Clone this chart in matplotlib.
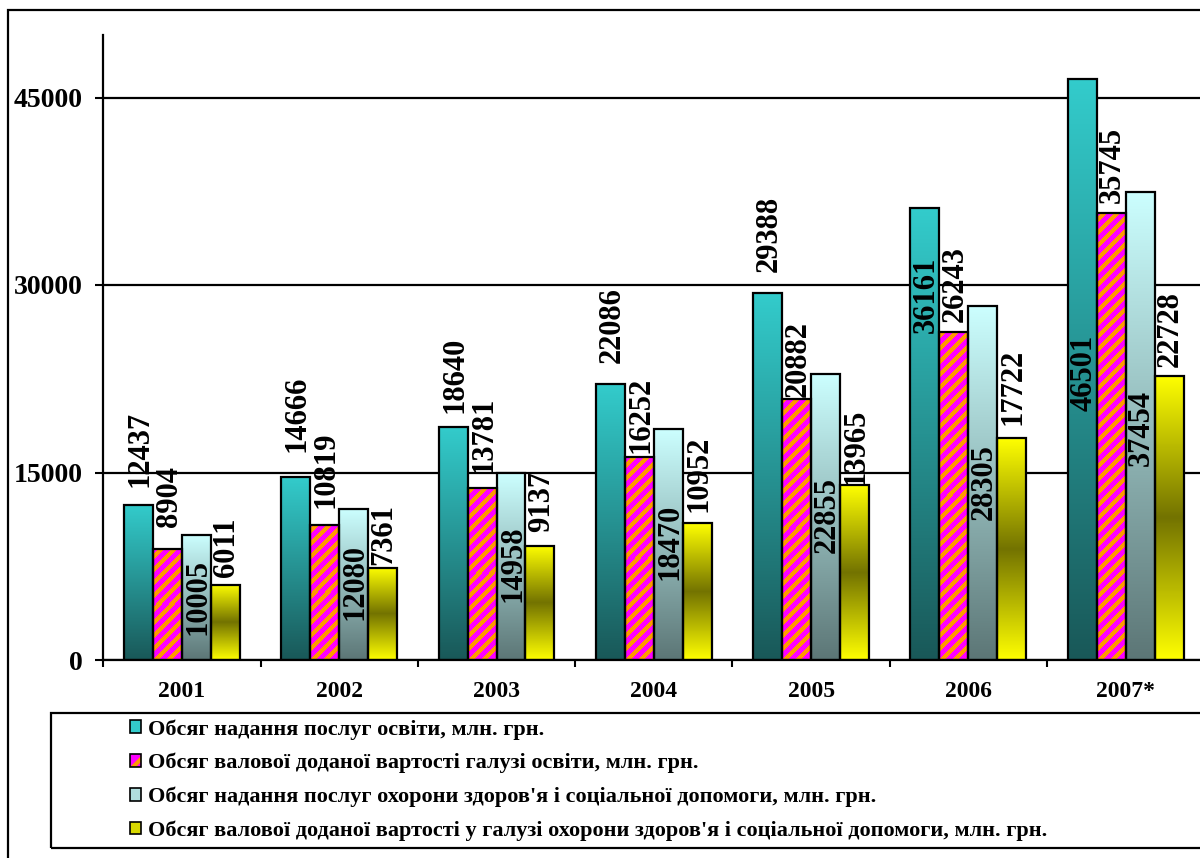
import numpy as np
import matplotlib
matplotlib.use('Agg')
import matplotlib.pyplot as plt
from matplotlib.colors import LinearSegmentedColormap, ListedColormap
from matplotlib.patches import Patch, Rectangle
from matplotlib.legend_handler import HandlerTuple

years = ['2001', '2002', '2003', '2004', '2005', '2006', '2007*']
edu_services = [12437, 14666, 18640, 22086, 29388, 36161, 46501]
edu_gva = [8904, 10819, 13781, 16252, 20882, 26243, 35745]
health_services = [10005, 12080, 14958, 18470, 22855, 28305, 37454]
health_gva = [6011, 7361, 9137, 10952, 13965, 17722, 22728]

# where each value label starts (data units), as placed in the original
edu_services_lbl = [13850, 16660, 19780, 23780, 31070, 26190, 19920]
edu_gva_lbl = [10650, 12170, 14970, 16580, 21060, 27070, 36590]
health_services_lbl = [2000, 3200, 4640, 6400, 8570, 11210, 15480]
health_gva_lbl = [6650, 7600, 10250, 11850, 14010, 18820, 23410]

series_names = [
    'Обсяг надання послуг освіти, млн. грн.',
    'Обсяг валової доданої вартості галузі освіти, млн. грн.',
    "Обсяг надання послуг охорони здоров'я і соціальної допомоги, млн. грн.",
    "Обсяг валової доданої вартості у галузі охорони здоров'я і соціальної допомоги, млн. грн.",
]

plt.rcParams['font.family'] = ['Liberation Serif', 'DejaVu Serif']
plt.rcParams['font.weight'] = 'bold'
plt.rcParams['hatch.linewidth'] = 3

teal = LinearSegmentedColormap.from_list('teal', ['#195858', '#33cccc'])
cyan = LinearSegmentedColormap.from_list('cyan', ['#5c7676', '#ccffff'])
olive = LinearSegmentedColormap.from_list('olive', ['#ffff00', '#737300', '#ffff00'])
stripes = ListedColormap(['#ff00ff', '#ff9900'])

fig = plt.figure(figsize=(12, 8.58), dpi=100)
W, H = 1200, 858
ax = fig.add_axes([103.3 / W, 1 - 660 / H, 1101 / W, 625 / H])
ax.set_xlim(-0.5, 6.5)
ax.set_ylim(0, 50000)

x = np.arange(len(years))
w = 0.184
offsets = (np.arange(4) - 1.5) * w
grad = np.linspace(0, 1, 256).reshape(-1, 1)

series = [
    (edu_services, edu_services_lbl, teal),
    (edu_gva, edu_gva_lbl, stripes),
    (health_services, health_services_lbl, cyan),
    (health_gva, health_gva_lbl, olive),
]

for i, (vals, lbls, cmap) in enumerate(series):
    xs = x + offsets[i]
    bars = ax.bar(xs, vals, w, facecolor='none', edgecolor='black',
                  linewidth=1.6, zorder=3)
    for b in bars:
        x0, bw, bh = b.get_x(), b.get_width(), b.get_height()
        if cmap is stripes:
            # diagonal stripes built in screen pixels
            (px0, py0), (px1, py1) = ax.transData.transform([(x0, 0), (x0 + bw, bh)])
            pw, ph = int(round(px1 - px0)), int(round(py1 - py0))
            cc, rr = np.meshgrid(np.arange(pw), np.arange(ph))
            img = (((cc - rr) % 13) < 6).astype(float)
            im = ax.imshow(img, extent=(x0, x0 + bw, 0, bh), origin='lower',
                           aspect='auto', cmap=stripes, vmin=0, vmax=1,
                           interpolation='nearest', zorder=2)
        else:
            im = ax.imshow(grad, extent=(x0, x0 + bw, 0, bh), origin='lower',
                           aspect='auto', cmap=cmap, zorder=2)
        im.set_clip_path(b)
    for xi, v, lp in zip(xs, vals, lbls):
        ax.text(xi + 0.01, lp, str(v), rotation=90, ha='center', va='bottom',
                fontsize=22, fontweight='bold', zorder=5)

ax.set_xlim(-0.5, 6.5)
ax.set_ylim(0, 50000)
ax.set_yticks([0, 15000, 30000, 45000])
ax.set_yticklabels(['0', '15000', '30000', '45000'], fontsize=20, fontweight='bold')
ax.tick_params(axis='y', length=6, width=1.5, pad=9)
ax.yaxis.grid(True, color='black', linewidth=1.6)
ax.set_axisbelow(True)

ax.set_xticks(np.arange(-0.5, 7, 1))
ax.set_xticklabels([])
ax.set_xticks(x, minor=True)
ax.set_xticklabels(years, minor=True, fontsize=17, fontweight='bold')
ax.tick_params(axis='x', which='major', length=5, width=1.5)
ax.tick_params(axis='x', which='minor', length=0, pad=15)

for s in ['top', 'right']:
    ax.spines[s].set_visible(False)
for s in ['left', 'bottom']:
    ax.spines[s].set_linewidth(1.6)

# outer frame and legend box
fig.patches.append(Rectangle((8 / W, -0.1), 1.2, 1.1 - 10.5 / H, transform=fig.transFigure,
                             fill=False, edgecolor='black', linewidth=1.6))
fig.patches.append(Rectangle((51 / W, 1 - 848 / H), 1.2, 135 / H, transform=fig.transFigure,
                             fill=False, edgecolor='black', linewidth=1.6))

handles = [
    Patch(facecolor='#33cccc', edgecolor='black', linewidth=1.2),
    (Patch(facecolor='#ff00ff', edgecolor='#ff9900', hatch='/', linewidth=0),
     Patch(facecolor='none', edgecolor='black', linewidth=1.2)),
    Patch(facecolor='#b0dede', edgecolor='black', linewidth=1.2),
    Patch(facecolor='#d8d800', edgecolor='black', linewidth=1.2),
]
fig.legend(handles, series_names, loc='upper left', bbox_to_anchor=(130 / W, 1 - 719 / H),
           frameon=False, prop={'weight': 'bold', 'size': 16},
           handlelength=0.5, handleheight=0.5, handletextpad=0.3,
           labelspacing=0.6, borderpad=0, borderaxespad=0,
           handler_map={tuple: HandlerTuple(ndivide=1)})

fig.savefig('out.png', dpi=100)
